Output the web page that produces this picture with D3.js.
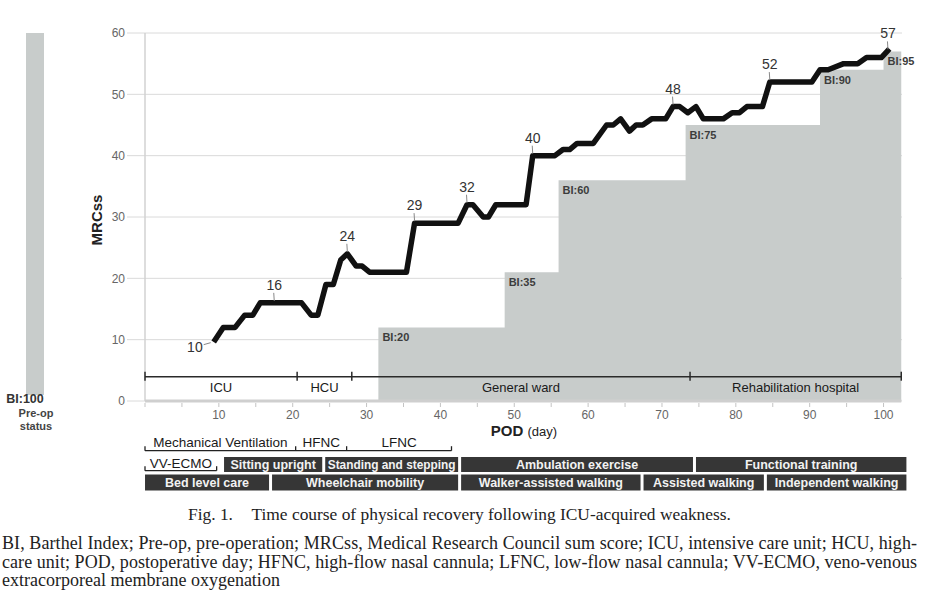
<!DOCTYPE html>
<html>
<head>
<meta charset="utf-8">
<script src="https://cdn.jsdelivr.net/npm/d3@7"></script>
<style>
  body { margin: 0; background: #fff; }
  svg text { font-family: "Liberation Sans", Arial, sans-serif; }
  svg text.serif { font-family: "Liberation Serif", "Times New Roman", serif; }
</style>
</head>
<body>
<svg id="chart" width="926" height="591"></svg>
<script>
// MRC sum score over postoperative days
const podDays = [9.3, 10.6, 12.2, 13.5, 14.6, 15.6, 21.2, 22.5, 23.4, 24.5, 25.5, 26.5, 27.4, 28.6, 29.4, 30.4,
  35.4, 36.5, 42.4, 43.6, 44.4, 45.8, 46.5, 47.5, 51.6, 52.5, 55.5, 56.6, 57.5, 58.5, 60.7, 62.5, 63.4, 64.4,
  65.6, 66.5, 67.4, 68.6, 70.5, 71.5, 72.4, 73.5, 74.6, 75.6, 78.3, 79.5, 80.5, 81.5, 83.6, 84.6, 90.3, 91.4,
  92.5, 94.6, 96.5, 97.7, 99.7, 100.8];
const mrcValues = [9.6, 12, 12, 14, 14, 16, 16, 14, 14, 19, 19, 23, 24, 22, 22, 21,
  21, 29, 29, 32, 32, 30, 30, 32, 32, 40, 40, 41, 41, 42, 42, 45, 45, 46,
  44, 45, 45, 46, 46, 48, 48, 47, 48, 46, 46, 47, 47, 48, 48, 52, 52, 54,
  54, 55, 55, 56, 56, 57.4];

// labelled MRCss values
const annotDays = [9.3, 17.5, 27.4, 36.5, 43.6, 52.5, 71.5, 84.6, 100.6];
const annotValues = [10, 16, 24, 29, 32, 40, 48, 52, 57];

// Barthel index steps
const biStartDays = [31.6, 48.7, 56, 73.2, 91.4, 100];
const biValues = [20, 35, 60, 75, 90, 95];
const biEndDay = 102.4;
const preOpBI = 100;

// hospital phases
const phaseNames = ["ICU", "HCU", "General ward", "Rehabilitation hospital"];
const phaseBounds = [0, 20.6, 28, 73.8, 102.4];

// respiratory support
const supportNames = ["Mechanical Ventilation", "HFNC", "LFNC"];
const supportBounds = [0, 20.4, 27.3, 41.5];
const ecmoNames = ["VV-ECMO"];
const ecmoBounds = [0, 9.7];

// rehabilitation
const rehabRow1 = ["Sitting upright", "Standing and stepping", "Ambulation exercise", "Functional training"];
const rehabRow1Bounds = [10.5, 24.2, 42.6, 74.4, 103.3];
const rehabRow2 = ["Bed level care", "Wheelchair mobility", "Walker-assisted walking", "Assisted walking", "Independent walking"];
const rehabRow2Bounds = [-0.2, 17, 42.6, 67.3, 84, 103.3];

const yTicks = [0, 10, 20, 30, 40, 50, 60];
const xTicks = [10, 20, 30, 40, 50, 60, 70, 80, 90, 100];

const notes = [
  "BI, Barthel Index; Pre-op, pre-operation; MRCss, Medical Research Council sum score; ICU, intensive care unit; HCU, high-",
  "care unit; POD, postoperative day; HFNC, high-flow nasal cannula; LFNC, low-flow nasal cannula; VV-ECMO, veno-venous",
  "extracorporeal membrane oxygenation"
];

const GREY = "#c8cccb";
const svg = d3.select("#chart");

const x = d3.scaleLinear().domain([0, 102.5]).range([145, 902]);
const y = d3.scaleLinear().domain([0, 60]).range([401, 33]);
const bi = d3.scaleLinear().domain([0, 100]).range([401, 33]);

// grille horizontale
svg.selectAll(".grid").data(yTicks).enter().append("line")
  .attr("x1", 127).attr("x2", x.range()[1])
  .attr("y1", d => y(d)).attr("y2", d => y(d))
  .attr("stroke", "#dadada").attr("stroke-width", 1);

// aire BI en escalier
const biSteps = biStartDays.map((d, i) => ({ day: d, v: biValues[i] }));
biSteps.push({ day: biEndDay, v: biValues[biValues.length - 1] });
svg.append("path")
  .datum(biSteps)
  .attr("fill", GREY)
  .attr("d", d3.area().curve(d3.curveStepAfter)
    .x(d => x(d.day)).y0(bi(0)).y1(d => bi(d.v)));

// axes
svg.append("line").attr("x1", x(0)).attr("x2", x(0)).attr("y1", y(60)).attr("y2", y(0))
  .attr("stroke", "#d2d2d2").attr("stroke-width", 1.5);
svg.append("line").attr("x1", x(0)).attr("x2", x(biEndDay)).attr("y1", y(0)).attr("y2", y(0))
  .attr("stroke", "#cfcfcf").attr("stroke-width", 3);

svg.selectAll(".xminor").data(d3.range(0, 105, 5)).enter().append("line")
  .attr("x1", d => x(d)).attr("x2", d => x(d))
  .attr("y1", y(0) + 2).attr("y2", y(0) + 6)
  .attr("stroke", "#c4c4c4");

svg.selectAll(".xlab").data(xTicks).enter().append("text")
  .attr("x", d => x(d)).attr("y", 415).attr("dy", "0.35em")
  .attr("text-anchor", "middle").attr("font-size", "12px").attr("fill", "#666")
  .text(d => d);

svg.selectAll(".ylab").data(yTicks).enter().append("text")
  .attr("x", 125).attr("y", d => y(d)).attr("dy", "0.35em")
  .attr("text-anchor", "end").attr("font-size", "12px").attr("fill", "#666")
  .text(d => d);

svg.append("text")
  .attr("transform", "translate(97,220) rotate(-90)")
  .attr("text-anchor", "middle").attr("dy", "0.35em")
  .attr("font-size", "15px").attr("font-weight", "bold").attr("fill", "#222")
  .text("MRCss");

const podLabel = svg.append("text")
  .attr("x", 524).attr("y", 430).attr("dy", "0.35em")
  .attr("text-anchor", "middle").attr("fill", "#222");
podLabel.append("tspan").attr("font-size", "15px").attr("font-weight", "bold").text("POD ");
podLabel.append("tspan").attr("font-size", "13px").text("(day)");

// étiquettes BI
svg.selectAll(".bilab").data(biStartDays).enter().append("text")
  .attr("x", d => x(d) + 4).attr("y", (d, i) => bi(biValues[i]) + 10).attr("dy", "0.35em")
  .attr("font-size", "11px").attr("font-weight", "bold").attr("fill", "#3c3c3c")
  .text((d, i) => "BI:" + biValues[i]);

// phases d'hospitalisation
const phaseY = 376.7;
svg.append("line").attr("x1", x(phaseBounds[0])).attr("x2", x(phaseBounds[phaseBounds.length - 1]))
  .attr("y1", phaseY).attr("y2", phaseY).attr("stroke", "#2a2a2a").attr("stroke-width", 1.5);
svg.selectAll(".ptick").data(phaseBounds).enter().append("line")
  .attr("x1", d => x(d)).attr("x2", d => x(d))
  .attr("y1", phaseY - 5).attr("y2", phaseY + 4)
  .attr("stroke", "#2a2a2a").attr("stroke-width", 1.5);
svg.selectAll(".plab").data(phaseNames).enter().append("text")
  .attr("x", (d, i) => x((phaseBounds[i] + phaseBounds[i + 1]) / 2))
  .attr("y", 387).attr("dy", "0.35em").attr("text-anchor", "middle")
  .attr("font-size", "13px").attr("fill", "#1a1a1a")
  .text(d => d);

// courbe MRCss
const lineData = podDays.map((d, i) => ({ day: d, v: mrcValues[i] }));
svg.append("path")
  .datum(lineData)
  .attr("fill", "none").attr("stroke", "#111").attr("stroke-width", 5.5)
  .attr("stroke-linejoin", "round")
  .attr("d", d3.line().x(d => x(d.day)).y(d => y(d.v)));

// annotations
annotDays.forEach((d, i) => {
  const px = x(d), py = y(annotValues[i]);
  if (i === 0) {
    svg.append("line").attr("x1", px - 3).attr("x2", px - 10).attr("y1", py + 3).attr("y2", py + 5)
      .attr("stroke", "#888");
    svg.append("text").attr("x", px - 11).attr("y", py + 7).attr("dy", "0.35em")
      .attr("text-anchor", "end").attr("font-size", "14px").attr("fill", "#333")
      .text(annotValues[i]);
  } else {
    svg.append("line").attr("x1", px).attr("x2", px - 0.5).attr("y1", py - 2).attr("y2", py - 10)
      .attr("stroke", "#888");
    svg.append("text").attr("x", px).attr("y", py - 18).attr("dy", "0.35em")
      .attr("text-anchor", "middle").attr("font-size", "14px").attr("fill", "#333")
      .text(annotValues[i]);
  }
});

// barre pré-op
svg.append("rect").attr("x", 26).attr("width", 18)
  .attr("y", bi(preOpBI)).attr("height", bi(0) - 6 - bi(preOpBI))
  .attr("fill", GREY);
svg.append("text").attr("x", 25).attr("y", 399).attr("dy", "0.35em")
  .attr("text-anchor", "middle").attr("font-size", "12.5px").attr("font-weight", "bold").attr("fill", "#333")
  .text("BI:" + preOpBI);
svg.append("text").attr("x", 36).attr("y", 413).attr("dy", "0.35em")
  .attr("text-anchor", "middle").attr("font-size", "11px").attr("font-weight", "bold").attr("fill", "#444")
  .text("Pre-op");
svg.append("text").attr("x", 36).attr("y", 426).attr("dy", "0.35em")
  .attr("text-anchor", "middle").attr("font-size", "11px").attr("font-weight", "bold").attr("fill", "#444")
  .text("status");

// crochets (support respiratoire, ECMO)
function bracketRow(names, bounds, lineY, labelY) {
  svg.append("line").attr("x1", x(bounds[0])).attr("x2", x(bounds[bounds.length - 1]))
    .attr("y1", lineY).attr("y2", lineY).attr("stroke", "#222").attr("stroke-width", 1.3);
  svg.selectAll(null).data(bounds).enter().append("line")
    .attr("x1", d => x(d)).attr("x2", d => x(d))
    .attr("y1", lineY - 4.5).attr("y2", lineY)
    .attr("stroke", "#222").attr("stroke-width", 1.3);
  svg.selectAll(null).data(names).enter().append("text")
    .attr("x", (d, i) => x((bounds[i] + bounds[i + 1]) / 2))
    .attr("y", labelY).attr("dy", "0.35em").attr("text-anchor", "middle")
    .attr("font-size", "13.5px").attr("fill", "#1a1a1a")
    .text(d => d);
}
bracketRow(supportNames, supportBounds, 450.7, 442.5);
bracketRow(ecmoNames, ecmoBounds, 470.7, 463.3);

// boîtes de rééducation
function boxRow(names, bounds, top, h) {
  const g = svg.append("g");
  g.selectAll("rect").data(names).enter().append("rect")
    .attr("x", (d, i) => x(bounds[i]) + 1.5)
    .attr("width", (d, i) => x(bounds[i + 1]) - x(bounds[i]) - 3)
    .attr("y", top).attr("height", h)
    .attr("fill", "#363636");
  g.selectAll("text").data(names).enter().append("text")
    .attr("x", (d, i) => x((bounds[i] + bounds[i + 1]) / 2))
    .attr("y", top + h / 2).attr("dy", "0.36em").attr("text-anchor", "middle")
    .attr("font-size", "12.5px").attr("font-weight", "bold").attr("fill", "#f2f2f2")
    .text(d => d)
    .each(function (d, i) {
      // resserrer le texte s'il déborde de la boîte
      const room = x(bounds[i + 1]) - x(bounds[i]) - 8;
      if (this.getComputedTextLength() > room) {
        d3.select(this).attr("textLength", room).attr("lengthAdjust", "spacingAndGlyphs");
      }
    });
}
boxRow(rehabRow1, rehabRow1Bounds, 457, 15);
boxRow(rehabRow2, rehabRow2Bounds, 474.5, 16);

// légende de la figure
svg.append("text").attr("class", "serif").attr("x", 188).attr("y", 520)
  .attr("font-size", "17.4px").attr("fill", "#222").text("Fig. 1.");
svg.append("text").attr("class", "serif").attr("x", 251.5).attr("y", 520)
  .attr("font-size", "17.4px").attr("fill", "#222")
  .text("Time course of physical recovery following ICU-acquired weakness.");

notes.forEach((t, i) => {
  const txt = svg.append("text").attr("class", "serif")
    .attr("x", 2).attr("y", 549 + i * 18.5)
    .attr("font-size", "18px").attr("fill", "#222")
    .text(t);
  if (i < notes.length - 1) txt.attr("textLength", 915).attr("lengthAdjust", "spacing");
});
</script>
</body>
</html>
